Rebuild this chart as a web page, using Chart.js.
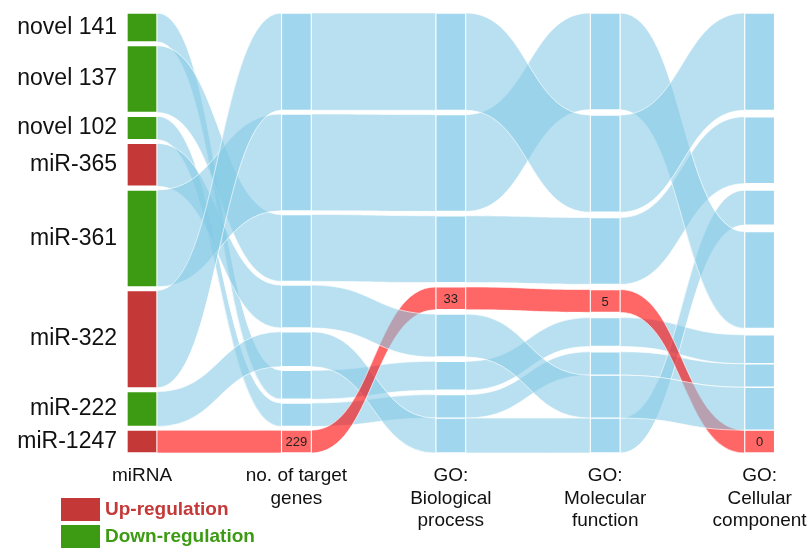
<!DOCTYPE html>
<html>
<head>
<meta charset="utf-8">
<title>miRNA targets and GO annotation</title>
<script src="https://cdn.jsdelivr.net/npm/chart.js@4.4.1/dist/chart.umd.min.js"></script>
<style>
  html, body { margin: 0; padding: 0; background: #fff; }
  #wrap { width: 811px; height: 548px; }
</style>
</head>
<body>
<div id="wrap"><canvas id="flowChart" width="811" height="548"></canvas></div>
<script>
// miRNAs, in the order they sit in the first column
const MIRNAS = ['novel 141', 'novel 137', 'novel 102', 'miR-365', 'miR-361', 'miR-322', 'miR-222', 'miR-1247'];
const REGULATION = ['down', 'down', 'down', 'up', 'down', 'up', 'down', 'up'];

// number of target genes per miRNA (this is also the ribbon width)
const TARGET_GENES = [290, 670, 235, 430, 970, 975, 350, 229];
// GO term counts per miRNA
const GO_BP = [18, 60, 12, 25, 95, 120, 12, 33];
const GO_MF = [4, 8, 3, 3, 14, 11, 3, 5];
const GO_CC = [0, 6, 0, 0, 2, 9, 4, 0];

const COLUMN_LABELS = [
    'miRNA',
    ['no. of target', 'genes'],
    ['GO:', 'Biological', 'process'],
    ['GO:', 'Molecular', 'function'],
    ['GO:', 'Cellular', 'component']
];

const HIGHLIGHT = 'miR-1247';
const GAP_TOTAL = 260;                         // vertical space shared by the gaps of a column
const DRAW_ORDER = [0, 1, 2, 6, 7, 3, 4, 5];   // ribbon paint order

const FONT = "'Liberation Sans', Arial, sans-serif";
const COLORS = {
    up: '#c43838',
    down: '#3c9b12',
    node: 'rgb(160, 215, 238)',
    ribbon: 'rgba(133, 201, 229, 0.58)',
    hiNode: 'rgb(255, 102, 102)',
    hiRibbon: 'rgba(255, 0, 0, 0.6)'
};

const columnValues = [null, TARGET_GENES, GO_BP, GO_MF, GO_CC];
const total = TARGET_GENES.reduce((s, v) => s + v, 0) + GAP_TOTAL;
const hiIndex = MIRNAS.indexOf(HIGHLIGHT);

// Stack the miRNAs of one column: sorted by value (largest on top),
// equal values share one block, different values get a gap.
function layoutColumn(values) {
    const order = MIRNAS.map((_, i) => i);
    if (values) order.sort((a, b) => values[b] - values[a] || a - b);

    const splits = order.map((i, k) => k > 0 && (!values || values[i] !== values[order[k - 1]]));
    const gap = GAP_TOTAL / splits.filter(Boolean).length;

    const spans = [];
    let pos = 0;
    order.forEach((i, k) => {
        if (splits[k]) pos += gap;
        spans[i] = [pos, pos + TARGET_GENES[i]];
        pos += TARGET_GENES[i];
    });
    return spans;
}

const spans = columnValues.map(layoutColumn);

function nodeColor(i, col) {
    if (col === 0) return REGULATION[i] === 'up' ? COLORS.up : COLORS.down;
    return i === hiIndex ? COLORS.hiNode : COLORS.node;
}

const datasets = MIRNAS.map((name, i) => ({
    label: name,
    data: spans.map((col, j) => ({ x: j, y: col[i] })),
    backgroundColor: spans.map((_, j) => nodeColor(i, j)),
    borderColor: '#ffffff',
    borderWidth: 1,
    borderSkipped: false,
    barThickness: 30,
    grouped: false
}));

// --- Plugins ---

const ribbonPlugin = {
    id: 'ribbons',
    beforeDatasetsDraw(chart) {
        const { ctx, scales: { x, y } } = chart;
        const half = 15;
        ctx.save();
        DRAW_ORDER.forEach(i => {
            for (let j = 0; j < spans.length - 1; j++) {
                const x0 = x.getPixelForValue(j) + half;
                const x1 = x.getPixelForValue(j + 1) - half;
                const xm = (x0 + x1) / 2;
                const [a0, b0] = spans[j][i].map(v => y.getPixelForValue(v));
                const [a1, b1] = spans[j + 1][i].map(v => y.getPixelForValue(v));

                ctx.beginPath();
                ctx.moveTo(x0, a0);
                ctx.bezierCurveTo(xm, a0, xm, a1, x1, a1);
                ctx.lineTo(x1, b1);
                ctx.bezierCurveTo(xm, b1, xm, b0, x0, b0);
                ctx.closePath();
                ctx.fillStyle = i === hiIndex ? COLORS.hiRibbon : COLORS.ribbon;
                ctx.fill();
                ctx.strokeStyle = 'rgba(255, 255, 255, 0.8)';
                ctx.lineWidth = 0.8;
                ctx.stroke();
            }
        });
        ctx.restore();
    }
};

const labelPlugin = {
    id: 'nodeLabels',
    afterDatasetsDraw(chart) {
        const { ctx, scales: { x, y } } = chart;
        ctx.save();

        // miRNA names beside the first column
        ctx.font = `23px ${FONT}`;
        ctx.fillStyle = '#111';
        ctx.textAlign = 'right';
        ctx.textBaseline = 'middle';
        MIRNAS.forEach((name, i) => {
            const [a, b] = spans[0][i];
            ctx.fillText(name, x.getPixelForValue(0) - 25, y.getPixelForValue((a + b) / 2));
        });

        // values of the highlighted miRNA
        ctx.font = `13px ${FONT}`;
        ctx.fillStyle = '#222';
        ctx.textAlign = 'center';
        for (let j = 1; j < columnValues.length; j++) {
            const [a, b] = spans[j][hiIndex];
            ctx.fillText(String(columnValues[j][hiIndex]), x.getPixelForValue(j), y.getPixelForValue((a + b) / 2) + 1);
        }
        ctx.restore();
    }
};

const regulationLegend = {
    id: 'regulationLegend',
    afterDraw(chart) {
        const { ctx } = chart;
        const items = [
            { text: 'Up-regulation', color: COLORS.up, top: 498 },
            { text: 'Down-regulation', color: COLORS.down, top: 525 }
        ];
        ctx.save();
        ctx.font = `bold 19px ${FONT}`;
        ctx.textAlign = 'left';
        ctx.textBaseline = 'middle';
        items.forEach(item => {
            ctx.fillStyle = item.color;
            ctx.fillRect(61, item.top, 39, 23);
            ctx.fillText(item.text, 105, item.top + 12);
        });
        ctx.restore();
    }
};

// --- Chart ---

new Chart(document.getElementById('flowChart'), {
    type: 'bar',
    data: { datasets },
    options: {
        responsive: false,
        animation: false,
        events: [],
        layout: { padding: { left: 126.56, right: 35.94, top: 13, bottom: 0 } },
        plugins: {
            legend: { display: false },
            tooltip: { enabled: false }
        },
        scales: {
            x: {
                type: 'linear',
                min: -0.1,
                max: 4.1,
                offset: false,
                grid: { display: false, drawTicks: false },
                border: { display: false },
                afterBuildTicks: scale => {
                    scale.ticks = COLUMN_LABELS.map((_, i) => ({ value: i }));
                },
                // fixed axis band; labels may hang past the plot edges
                afterFit: scale => {
                    scale.height = 95;
                    scale.paddingLeft = 0;
                    scale.paddingRight = 0;
                },
                ticks: {
                    autoSkip: false,
                    maxRotation: 0,
                    minRotation: 0,
                    padding: 12,
                    color: '#111',
                    font: { family: FONT, size: 19, lineHeight: 1.18 },
                    callback: value => COLUMN_LABELS[value]
                }
            },
            y: {
                type: 'linear',
                display: false,
                reverse: true,
                min: 0,
                max: total
            }
        }
    },
    plugins: [ribbonPlugin, labelPlugin, regulationLegend]
});
</script>
</body>
</html>
